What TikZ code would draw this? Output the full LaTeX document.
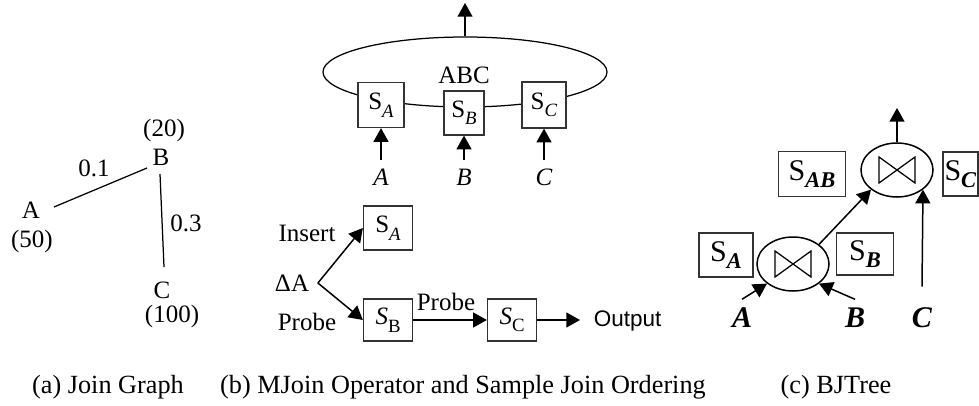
\documentclass[tikz,border=0pt]{standalone}
\usepackage{fontspec}
\setmainfont{Liberation Serif}
\setsansfont{Liberation Sans}
\usetikzlibrary{shapes.geometric,arrows.meta}
% lowered subscript as in the drawing tool
\newcommand{\lowsub}[2][7.5]{\raisebox{-3pt}{\fontsize{#1}{#1}\selectfont #2}}

\begin{document}
\begin{tikzpicture}[x=0.4pt,y=-0.4pt,
    font=\fontsize{10}{12}\selectfont,
    arr/.style={-{Triangle[length=5.5pt,width=6pt]},line width=0.6pt},
    rel/.style={draw=black!80,fill=white,line width=0.5pt,inner sep=0pt},
    joinop/.style={ellipse,draw,fill=white,line width=0.6pt,inner sep=0pt,
        minimum width=28.8pt,minimum height=21.6pt},
    big/.style={font=\fontsize{12}{14}\selectfont},
    captext/.style={font=\fontsize{10.5}{12}\selectfont}]
\useasboundingbox (0,0) rectangle (979,406);

% (a) the join graph with sizes and selectivities
\node (A) at (31,210) {A};
\node (B) at (161,157) {B};
\node (C) at (162,290) {C};
\node (nA) at (32,241) {(50)};
\node (nB) at (164,130) {(20)};
\node (nC) at (172,316) {(100)};
\draw[line width=0.5pt] ([shift={(23,-3)}]A.center) -- ([shift={(-14,11)}]B.center);
\draw[line width=0.5pt] ([shift={(-1,17)}]B.center) -- ([shift={(2,-23)}]C.center);
\node (wAB) at (94,168) {0.1};
\node (wBC) at (186,223) {0.3};

% (b) the MJoin operator, states sit on the ellipse
\node[ellipse,draw,line width=0.5pt,inner sep=0pt,minimum width=113.6pt,
    minimum height=28pt] (mj) at (465,72) {};
\node (abc) at (464,75) {ABC};
\node[rel,minimum width=18.4pt,minimum height=18pt] (sA1) at (381,105) {S\lowsub{\textit{A}}};
\node[rel,minimum width=16pt,minimum height=17.6pt] (sB1) at (464,113) {S\lowsub{\textit{B}}};
\node[rel,minimum width=17.6pt,minimum height=18.4pt] (sC1) at (544,105) {S\lowsub{\textit{C}}};
\coordinate (top1) at (465,3);
\draw[arr] (mj.north) -- (top1);

\node (lA1) at (381,177) {\textit{A}};
\node (lB1) at (464,177) {\textit{B}};
\node (lC1) at (544,177) {\textit{C}};
\draw[arr] (lA1) -- (sA1);
\draw[arr] (lB1) -- (sB1);
\draw[arr] (lC1) -- (sC1);

% sample join ordering for a new tuple of A
\node (dA) at (292,283) {ΔA};
\node (ins) at (307,233) {Insert};
\node (prb1) at (307,322) {Probe};
\node[rel,minimum width=19.6pt,minimum height=17.6pt] (sA2) at (388,228) {S\lowsub{\textit{A}}};
\node[rel,minimum width=19.6pt,minimum height=16.8pt] (sB2) at (388,320) {\textit{S}\lowsub{B}};
\node[rel,minimum width=19.6pt,minimum height=16.8pt] (sC2) at (512,320) {\textit{S}\lowsub{C}};
\draw[arr] (dA.east) -- (sA2.west);
\draw[arr] (dA.east) -- (sB2.west);
\draw[arr] (sB2) -- (sC2);
\node (prb2) at (446,302) {Probe};
\coordinate (out2) at (580,320);
\draw[arr] (sC2) -- (out2);
\node[anchor=west,font=\sffamily\fontsize{9}{11}\selectfont] (outp) at (585,321) {Output};

% (c) the binary join tree
\node[joinop] (j1) at (793,264) {};
\node[joinop] (j2) at (897,170) {};
\foreach \j in {j1,j2}
  \draw[line width=0.5pt] ([shift={(-18,-13)}]\j.center) -- ([shift={(18,13)}]\j.center)
    -- ([shift={(18,-13)}]\j.center) -- ([shift={(-18,13)}]\j.center) -- cycle;
\node[rel,big,minimum width=21.6pt,minimum height=17.6pt] (cA) at (726,255) {S\lowsub[9]{\textbf{\textit{A}}}};
\node[rel,big,minimum width=22.8pt,minimum height=16.8pt] (cB) at (865,254) {S\lowsub[9]{\textbf{\textit{B}}}};
\node[rel,big,minimum width=26.8pt,minimum height=18pt] (cAB) at (812,174) {S\lowsub[9]{\textbf{\textit{AB}}}};
\node[rel,big,minimum width=14pt,minimum height=17.6pt] (cC) at (960.5,174) {S\lowsub[9]{\textbf{\textit{C}}}};

\node[big] (lA) at (742,318) {\textbf{\textit{A}}};
\node[big] (lB) at (855,318) {\textbf{\textit{B}}};
\node[big] (lC) at (922,318) {\textbf{\textit{C}}};
\draw[arr] (lA.north) -- (j1.south west);
\draw[arr] (lB.north) -- (j1.south east);
\draw[arr] ([yshift=5pt]lC.north) -- (j2.south east);
\draw[arr] (j1.north east) -- (j2.south west);
\coordinate (top3) at (897,108);
\draw[arr] (j2.north) -- (top3);

% captions
\node[captext] (capa) at (108,387) {(a) Join Graph};
\node[captext] (capb) at (463,387) {(b) MJoin Operator and Sample Join Ordering};
\node[captext] (capc) at (836,387) {(c) BJTree};
\end{tikzpicture}
\end{document}
